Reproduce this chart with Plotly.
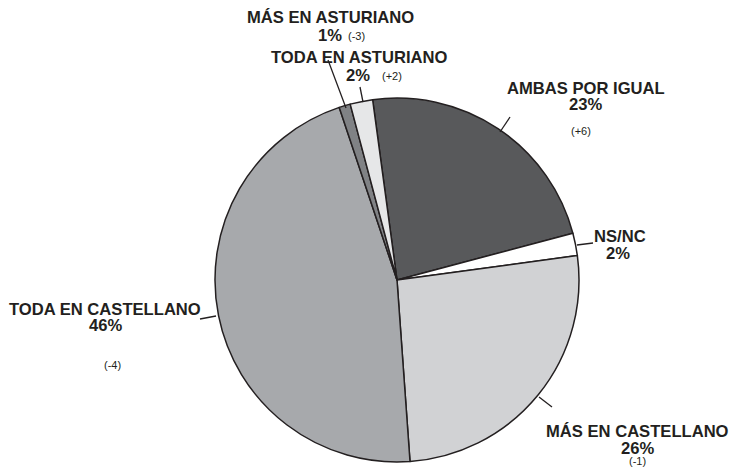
import plotly.graph_objects as go

categories = ["AMBAS POR IGUAL", "NS/NC", "MÁS EN CASTELLANO", "TODA EN CASTELLANO",
              "MÁS EN ASTURIANO", "TODA EN ASTURIANO"]
values = [23, 2, 26, 46, 1, 2]
changes = ["(+6)", "", "(-1)", "(-4)", "(-3)", "(+2)"]
colors = ["#58595b", "#ffffff", "#d1d2d4", "#a7a9ac", "#808285", "#e6e7e8"]

W, H = 736, 469

def px(x):
    return x / W

def py(y):
    return 1 - y / H

fig = go.Figure(go.Pie(
    labels=categories,
    values=values,
    sort=False,
    direction="clockwise",
    rotation=-7.7,
    marker=dict(colors=colors, line=dict(color="#231f20", width=1.5)),
    textinfo="none",
    hoverinfo="label+percent",
    showlegend=False,
    domain=dict(x=[px(215), px(579)], y=[py(462), py(98)]),
))

TXT = "#231f20"
bold = dict(family="Liberation Sans, Arial, sans-serif", size=16.6, color=TXT)
small = dict(family="Liberation Sans, Arial, sans-serif", size=11, color=TXT)

# label layout: (name line pos, pct line pos, change pos) in pixels
label_pos = {
    "AMBAS POR IGUAL": ((586, 88), (585, 105), (581, 131)),
    "NS/NC": ((620, 236), (618, 253), None),
    "MÁS EN CASTELLANO": ((637, 431), (637, 448), (637, 461)),
    "TODA EN CASTELLANO": ((105, 309), (105, 325.5), (113, 365)),
    "MÁS EN ASTURIANO": ((330, 17), (330, 35), (356, 36)),
    "TODA EN ASTURIANO": ((359, 57.5), (358, 75), (392, 76)),
}
leaders = {
    "AMBAS POR IGUAL": ((510, 117), (500, 132)),
    "NS/NC": ((593, 243), (577, 245)),
    "MÁS EN CASTELLANO": ((552, 407), (539, 397)),
    "TODA EN CASTELLANO": ((200, 319), (216, 316)),
    "MÁS EN ASTURIANO": ((328, 60), (346, 108)),
    "TODA EN ASTURIANO": ((360, 87), (363, 102)),
}

total = sum(values)
annotations = []
shapes = []
for cat, val, ch in zip(categories, values, changes):
    (nx, ny), (qx, qy), cpos = label_pos[cat]
    pct = round(100 * val / total)
    annotations.append(dict(x=px(nx), y=py(ny), xref="paper", yref="paper",
                            text=f"<b>{cat}</b>", showarrow=False, font=bold,
                            xanchor="center", yanchor="middle"))
    annotations.append(dict(x=px(qx), y=py(qy), xref="paper", yref="paper",
                            text=f"<b>{pct}%</b>", showarrow=False, font=bold,
                            xanchor="center", yanchor="middle"))
    if cpos and ch:
        annotations.append(dict(x=px(cpos[0]), y=py(cpos[1]), xref="paper", yref="paper",
                                text=ch, showarrow=False, font=small,
                                xanchor="center", yanchor="middle"))
    (x0, y0), (x1, y1) = leaders[cat]
    shapes.append(dict(type="line", xref="paper", yref="paper",
                       x0=px(x0), y0=py(y0), x1=px(x1), y1=py(y1),
                       line=dict(color=TXT, width=1.3)))

fig.update_layout(
    width=W, height=H,
    margin=dict(l=0, r=0, t=0, b=0),
    paper_bgcolor="white",
    plot_bgcolor="white",
    annotations=annotations,
    shapes=shapes,
)

fig.write_html("out.html",
               config={"displayModeBar": False},
               post_script="document.body.style.margin='0';document.body.style.overflow='hidden';")
